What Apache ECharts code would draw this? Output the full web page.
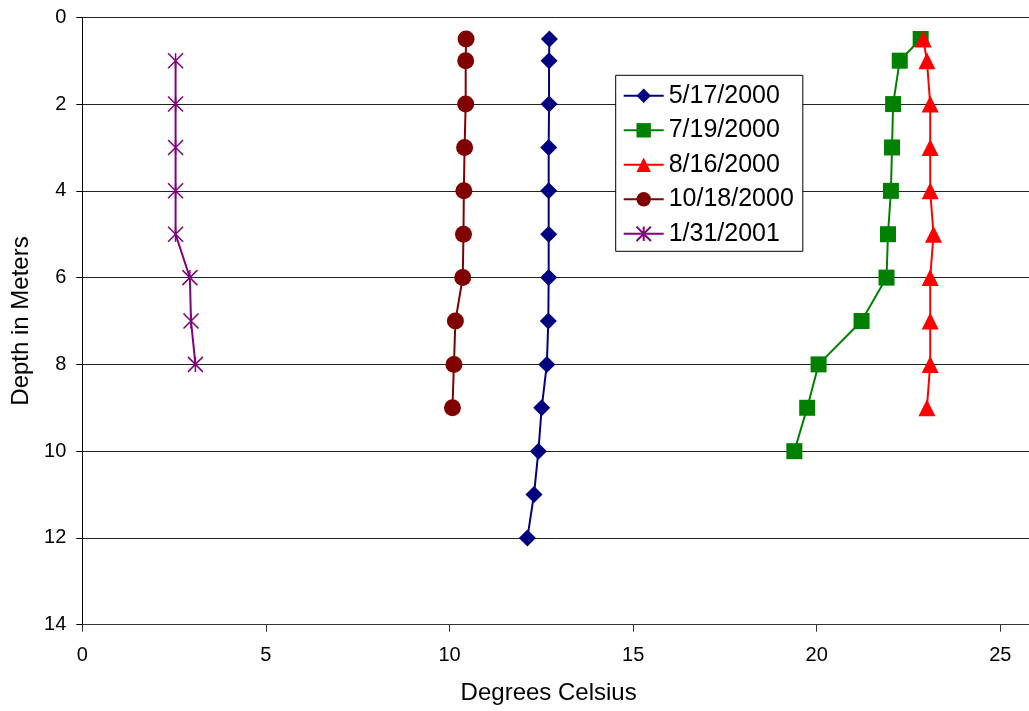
<!DOCTYPE html>
<html>
<head>
<meta charset="utf-8">
<script src="https://cdn.jsdelivr.net/npm/echarts@6/dist/echarts.min.js"></script>
<style>
html,body{margin:0;padding:0;background:#fff;}
#chart{width:1029px;height:711px;}
</style>
</head>
<body>
<div id="chart"></div>
<script>
// ---- data ----
const seriesNames = ['5/17/2000', '7/19/2000', '8/16/2000', '10/18/2000', '1/31/2001'];

const depth0517 = [0.5, 1, 2, 3, 4, 5, 6, 7, 8, 9, 10, 11, 12];
const temp0517  = [12.72, 12.71, 12.71, 12.7, 12.7, 12.7, 12.7, 12.69, 12.65, 12.51, 12.42, 12.3, 12.12];

const depth0719 = [0.5, 1, 2, 3, 4, 5, 6, 7, 8, 9, 10];
const temp0719  = [22.83, 22.26, 22.08, 22.05, 22.02, 21.94, 21.9, 21.22, 20.05, 19.74, 19.39];

const depth0816 = [0.5, 1, 2, 3, 4, 5, 6, 7, 8, 9];
const temp0816  = [22.9, 23.0, 23.09, 23.09, 23.09, 23.18, 23.09, 23.09, 23.09, 23.0];

const depth1018 = [0.5, 1, 2, 3, 4, 5, 6, 7, 8, 9];
const temp1018  = [10.45, 10.44, 10.44, 10.41, 10.39, 10.38, 10.36, 10.16, 10.12, 10.08];

const depth0131 = [1, 2, 3, 4, 5, 6, 7, 8];
const temp0131  = [2.54, 2.54, 2.54, 2.54, 2.54, 2.93, 2.96, 3.08];

const xTicks = [0, 5, 10, 15, 20, 25];
const yTicks = [0, 2, 4, 6, 8, 10, 12, 14];

// ---- chart ----
const FONT = '"Liberation Sans", Arial, sans-serif';
function pairs(t, d) { return t.map((v, i) => [v, d[i]]); }
const starPath = 'path://M0,0L10,10M10,0L0,10M5,0L5,10';

const chart = echarts.init(document.getElementById('chart'), null, {renderer: 'canvas'});

function lineSeries(name, t, d, color, symbol, size, extra) {
  return Object.assign({
    name: name,
    type: 'line',
    data: pairs(t, d),
    symbol: symbol,
    symbolSize: size,
    showAllSymbol: true,
    lineStyle: {color: color, width: 2},
    itemStyle: {color: color},
    emphasis: {disabled: true},
    animation: false,
    z: 3
  }, extra || {});
}

const option = {
  animation: false,
  grid: {left: 82.3, top: 17.3, right: 0, bottom: 86.3, containLabel: false},
  xAxis: {
    type: 'value',
    min: xTicks[0],
    max: 25.78,
    interval: 5,
    name: 'Degrees Celsius',
    nameLocation: 'middle',
    nameGap: 57,
    nameTextStyle: {fontFamily: FONT, fontSize: 24, color: '#000', padding: [0, 14, 0, 0]},
    axisLine: {show: true, onZero: false, lineStyle: {color: '#333', width: 1}},
    axisTick: {show: true, inside: false, length: 7, lineStyle: {color: '#333'}},
    axisLabel: {fontFamily: FONT, fontSize: 20, color: '#000', margin: 21, showMaxLabel: false,
      formatter: v => (xTicks.indexOf(v) >= 0 ? String(v) : '')},
    splitLine: {show: false}
  },
  yAxis: {
    type: 'value',
    inverse: true,
    min: yTicks[0],
    max: yTicks[yTicks.length - 1],
    interval: 2,
    name: 'Depth in Meters',
    nameLocation: 'middle',
    nameGap: 49,
    nameTextStyle: {fontFamily: FONT, fontSize: 24, color: '#000'},
    axisLine: {show: true, onZero: false, lineStyle: {color: '#000', width: 1}},
    axisTick: {show: true, inside: false, length: 6, lineStyle: {color: '#000'}},
    axisLabel: {fontFamily: FONT, fontSize: 20, color: '#000', margin: 16},
    splitLine: {show: true, lineStyle: {color: '#222', width: 1}}
  },
  legend: {
    show: true,
    data: seriesNames,
    orient: 'vertical',
    left: 615.7,
    top: 75.3,
    padding: [8, 9, 5, 7],
    itemGap: 9.5,
    itemWidth: 40,
    itemHeight: 18,
    backgroundColor: '#fff',
    borderColor: '#000',
    borderWidth: 1,
    borderRadius: 0,
    textStyle: {fontFamily: FONT, fontSize: 25, color: '#000'},
    selectedMode: false
  },
  series: [
    lineSeries(seriesNames[0], temp0517, depth0517, '#000080', 'diamond', 17),
    lineSeries(seriesNames[1], temp0719, depth0719, '#008000', 'rect', 16),
    lineSeries(seriesNames[2], temp0816, depth0816, '#FF0000', 'triangle', 17),
    lineSeries(seriesNames[3], temp1018, depth1018, '#800000', 'circle', 17),
    lineSeries(seriesNames[4], temp0131, depth0131, '#800080', starPath, 15, {
      itemStyle: {color: 'rgba(0,0,0,0)', borderColor: '#800080', borderWidth: 1.5}
    })
  ]
};
chart.setOption(option);
</script>
</body>
</html>
